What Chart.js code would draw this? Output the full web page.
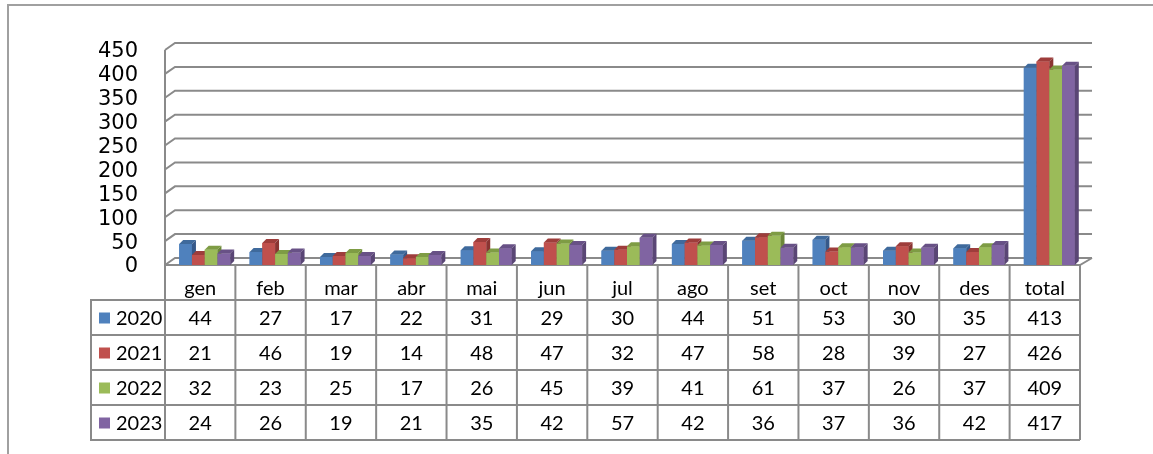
<!DOCTYPE html>
<html>
<head>
<meta charset="utf-8">
<script src="https://cdn.jsdelivr.net/npm/chart.js@4"></script>
<style>
html, body { margin: 0; background: #fff; }
canvas { display: block; }
</style>
</head>
<body>
<canvas id="myChart" width="1153" height="454"></canvas>
<script>
const labels = ['gen', 'feb', 'mar', 'abr', 'mai', 'jun', 'jul', 'ago', 'set', 'oct', 'nov', 'des', 'total'];
const years = ['2020', '2021', '2022', '2023'];
const y2020 = [44, 27, 17, 22, 31, 29, 30, 44, 51, 53, 30, 35, 413];
const y2021 = [21, 46, 19, 14, 48, 47, 32, 47, 58, 28, 39, 27, 426];
const y2022 = [32, 23, 25, 17, 26, 45, 39, 41, 61, 37, 26, 37, 409];
const y2023 = [24, 26, 19, 21, 35, 42, 57, 42, 36, 37, 36, 42, 417];
const yTicks = [0, 50, 100, 150, 200, 250, 300, 350, 400, 450];

var colors = ['#4f81bd', '#c0504d', '#9bbb59', '#8064a2'];
var topColors = ['#3f6a9c', '#9e3d3b', '#7e9c44', '#685186'];
var sideColors = ['#36598a', '#8a3432', '#6c8839', '#5a4675'];

var SHIFT = 4.5;   // bars stand a bit right of the front edge (depth)
var DXL = 10;      // wall depth, left side
var DXR = 12;      // wall depth, right side
var DY = 7;
var BD = 4;        // bar depth
var LINE = '#8a8a8a';
var ROW_H = 35;
var TABLE_LEFT = 91;
var TABLE_FONT = '20px Lato';

//back wall, floor, axis line
var wallPlugin = {
    id: 'wall',
    beforeDatasetsDraw: function(chart) {
        const ctx = chart.ctx;
        const a = chart.chartArea;
        const ys = chart.scales.y;
        const left = a.left - SHIFT;
        const right = a.right - SHIFT;
        ctx.save();
        ctx.strokeStyle = LINE;
        ctx.lineWidth = 2;
        yTicks.forEach(function(v) {
            const py = ys.getPixelForValue(v);
            ctx.beginPath();
            ctx.moveTo(left, py);
            ctx.lineTo(left + DXL, py - DY);
            ctx.lineTo(right + DXR, py - DY);
            ctx.stroke();
        });
        ctx.beginPath();
        ctx.moveTo(left, ys.getPixelForValue(450));
        ctx.lineTo(left, a.bottom);
        ctx.lineTo(right, a.bottom);
        ctx.lineTo(right + DXR, a.bottom - DY);
        ctx.stroke();
        ctx.restore();
    }
};

function poly(ctx, pts, fill) {
    ctx.beginPath();
    ctx.moveTo(pts[0][0], pts[0][1]);
    for (let i = 1; i < pts.length; i++) ctx.lineTo(pts[i][0], pts[i][1]);
    ctx.closePath();
    ctx.fillStyle = fill;
    ctx.fill();
}

//3d faces, drawn left to right so front faces hide sides behind them
var barsPlugin = {
    id: 'bars3d',
    afterDatasetsDraw: function(chart) {
        const ctx = chart.ctx;
        const metas = years.map(function(y, i) { return chart.getDatasetMeta(i); });
        ctx.save();
        for (let c = 0; c < labels.length; c++) {
            for (let d = 0; d < metas.length; d++) {
                const bar = metas[d].data[c];
                const p = bar.getProps(['x', 'y', 'base', 'width'], true);
                const l = p.x - p.width / 2;
                const r = p.x + p.width / 2;
                poly(ctx, [[l, p.y], [r, p.y], [r, p.base], [l, p.base]], colors[d]);
                poly(ctx, [[l, p.y], [r, p.y], [r + BD, p.y - BD], [l + BD, p.y - BD]], topColors[d]);
                poly(ctx, [[r, p.y], [r + BD, p.y - BD], [r + BD, p.base - BD], [r, p.base]], sideColors[d]);
            }
        }
        ctx.restore();
    }
};

//data table under the plot + outer frame
var tablePlugin = {
    id: 'dataTable',
    afterDraw: function(chart) {
        const ctx = chart.ctx;
        const a = chart.chartArea;
        const xs = chart.scales.x;
        const half = (xs.getPixelForValue(1) - xs.getPixelForValue(0)) / 2;
        const top = a.bottom;
        const rowsTop = top + ROW_H;
        const bottom = rowsTop + ROW_H * years.length;
        const edges = [];
        for (let i = 0; i < labels.length; i++) edges.push(xs.getPixelForValue(i) - half - SHIFT);
        edges.push(xs.getPixelForValue(labels.length - 1) + half - SHIFT);
        const right = edges[edges.length - 1];
        const rows = [y2020, y2021, y2022, y2023];

        ctx.save();
        ctx.strokeStyle = LINE;
        ctx.lineWidth = 2;
        ctx.beginPath();
        for (let k = 0; k <= years.length; k++) {
            ctx.moveTo(TABLE_LEFT, rowsTop + k * ROW_H);
            ctx.lineTo(right, rowsTop + k * ROW_H);
        }
        edges.forEach(function(e) {
            ctx.moveTo(e, top);
            ctx.lineTo(e, bottom);
        });
        ctx.moveTo(TABLE_LEFT, rowsTop - 1);
        ctx.lineTo(TABLE_LEFT, bottom + 1);
        ctx.stroke();

        ctx.fillStyle = '#000';
        ctx.font = TABLE_FONT;
        ctx.textAlign = 'center';
        ctx.textBaseline = 'middle';
        for (let i = 0; i < labels.length; i++) {
            const cx = (edges[i] + edges[i + 1]) / 2;
            ctx.fillText(labels[i], cx, top + 24);
            for (let k = 0; k < rows.length; k++) {
                ctx.fillText(String(rows[k][i]), cx, rowsTop + k * ROW_H + ROW_H / 2 + 1);
            }
        }
        ctx.textAlign = 'left';
        for (let k = 0; k < years.length; k++) {
            const cy = rowsTop + k * ROW_H + ROW_H / 2;
            ctx.fillStyle = colors[k];
            ctx.fillRect(99, cy - 5, 11, 11);
            ctx.fillStyle = '#000';
            ctx.fillText(years[k], 116, cy + 1);
        }

        ctx.strokeStyle = '#a0a0a0';
        ctx.beginPath();
        ctx.moveTo(8, 454);
        ctx.lineTo(8, 5);
        ctx.lineTo(1153, 5);
        ctx.stroke();
        ctx.restore();
    }
};

const data = {
    labels: labels,
    datasets: [y2020, y2021, y2022, y2023].map(function(vals, i) {
        return {
            label: years[i],
            data: vals,
            backgroundColor: colors[i],
            borderWidth: 0,
            barPercentage: 1,
            categoryPercentage: 0.724
        };
    })
};

const config = {
    type: 'bar',
    data: data,
    options: {
        responsive: false,
        animation: false,
        layout: {
            padding: { left: 0, right: 1153 - 1080 - SHIFT, top: 50, bottom: 454 - 265 }
        },
        plugins: {
            legend: { display: false },
            tooltip: { enabled: false }
        },
        scales: {
            x: { display: false },
            y: {
                min: 0,
                max: 450,
                afterFit: function(scale) { scale.width = 165 + SHIFT; },
                afterBuildTicks: function(scale) {
                    scale.ticks = yTicks.map(function(v) { return { value: v }; });
                },
                grid: { display: false, drawTicks: false },
                border: { display: false },
                ticks: {
                    autoSkip: false,
                    padding: 27 + SHIFT,
                    labelOffset: 2,
                    color: '#000',
                    font: { family: "'DejaVu Sans', sans-serif", size: 21 }
                }
            }
        }
    },
    plugins: [wallPlugin, barsPlugin, tablePlugin]
};

var myChart = new Chart(document.getElementById('myChart'), config);
</script>
</body>
</html>
